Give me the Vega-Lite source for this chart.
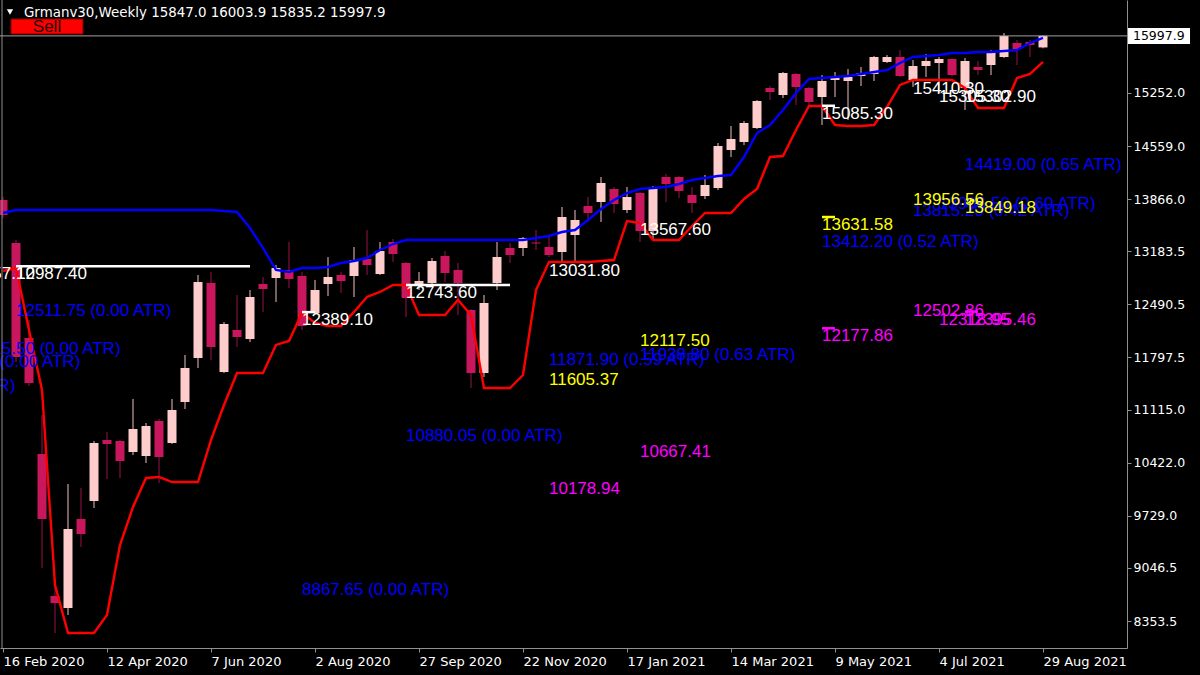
{
"$schema": "https://vega.github.io/schema/vega-lite/v6.json",
"width": 1127, "height": 648,
"autosize": {"type": "none"},
"padding": {"left": 0, "top": 0, "right": 73, "bottom": 27},
"background": "#000000",
"config": {
"view": {"stroke": null},
"scale": {"continuousPadding": 0},
"axis": {"labelColor": "#FFFFFF", "labelFont": "DejaVu Sans", "tickColor": "#909090", "tickSize": 4, "domainColor": "#909090", "grid": false, "labelOverlap": false, "labelFlush": false, "labelBound": false},
"axisX": {"labelFontSize": 13, "labelPadding": 3, "labelAlign": "left"},
"axisY": {"labelFontSize": 12.5, "labelPadding": 2}
},
"datasets": {
"one": [{}],
"candles": [
{"d":"2020-02-16","o":13853.9,"h":13893,"l":13618.7,"c":13657.9,"up":13684,"dn":12926.3},
{"d":"2020-02-23","o":13292.1,"h":13331.3,"l":11737.4,"c":11802.7,"up":13723.3,"dn":12965.3},
{"d":"2020-03-01","o":12050.9,"h":12286.1,"l":11423.8,"c":11463,"up":13723.3,"dn":12155.5},
{"d":"2020-03-08","o":10535.4,"h":11044.9,"l":9045.9,"c":9686.2,"up":13723.3,"dn":11371.6},
{"d":"2020-03-15","o":8680.2,"h":8902.3,"l":8196.8,"c":8588.7,"up":13723.3,"dn":8823.8},
{"d":"2020-03-22","o":8523.4,"h":10143.4,"l":8431.9,"c":9555.5,"up":13723.3,"dn":8196.8},
{"d":"2020-03-29","o":9686.2,"h":10091.2,"l":9320.4,"c":9490.2,"up":13723.3,"dn":8196.8},
{"d":"2020-04-05","o":9921.3,"h":10705.2,"l":9829.8,"c":10679.1,"up":13723.3,"dn":8196.8},
{"d":"2020-04-12","o":10718.3,"h":10822.8,"l":10208.8,"c":10666.1,"up":13723.3,"dn":8431.9},
{"d":"2020-04-19","o":10705.2,"h":10718.3,"l":10221.8,"c":10443.9,"up":13723.3,"dn":9346.5},
{"d":"2020-04-26","o":10561.5,"h":11254,"l":10522.3,"c":10862,"up":13723.3,"dn":9843},
{"d":"2020-05-03","o":10509.3,"h":10940.4,"l":10417.8,"c":10901.2,"up":13723.3,"dn":10221.8},
{"d":"2020-05-10","o":10966.5,"h":10992.7,"l":10156.5,"c":10496.2,"up":13723.3,"dn":10234.9},
{"d":"2020-05-17","o":10679.1,"h":11254,"l":10666.1,"c":11110.2,"up":13723.3,"dn":10169.6},
{"d":"2020-05-24","o":11214.8,"h":11828.8,"l":11123.3,"c":11659,"up":13723.3,"dn":10169.6},
{"d":"2020-05-31","o":11789.6,"h":12874.1,"l":11659,"c":12782.6,"up":13723.3,"dn":10169.6},
{"d":"2020-06-07","o":12769.5,"h":12913.2,"l":11763.5,"c":11933.4,"up":13723.3,"dn":10718.3},
{"d":"2020-06-14","o":11606.7,"h":12259.8,"l":11593.6,"c":12233.8,"up":13710.2,"dn":11175.6},
{"d":"2020-06-21","o":12155.5,"h":12612.7,"l":11933.4,"c":12064,"up":13697.1,"dn":11593.6},
{"d":"2020-06-28","o":12037.9,"h":12678,"l":11998.7,"c":12586.6,"up":13488.1,"dn":11593.6},
{"d":"2020-07-05","o":12756.4,"h":12848,"l":12390.6,"c":12691.1,"up":13226.8,"dn":11593.6},
{"d":"2020-07-12","o":12834.8,"h":13004.6,"l":12521.3,"c":12965.3,"up":12939.4,"dn":11960},
{"d":"2020-07-19","o":12939.4,"h":13305.2,"l":12704.2,"c":12821.8,"up":12913.2,"dn":12012.6},
{"d":"2020-07-26","o":12861,"h":12913.2,"l":12155.5,"c":12207.7,"up":12965.3,"dn":12378.4},
{"d":"2020-08-02","o":12377.6,"h":12808.7,"l":12370,"c":12678,"up":12965.3,"dn":12247.8},
{"d":"2020-08-09","o":12756.4,"h":13109.2,"l":12599.7,"c":12848,"up":12978.4,"dn":12208.7},
{"d":"2020-08-16","o":12874.1,"h":12913.2,"l":12638.9,"c":12795.8,"up":13030.8,"dn":12208.7},
{"d":"2020-08-23","o":12861,"h":13239.8,"l":12586.6,"c":13070,"up":13056.9,"dn":12391.5},
{"d":"2020-08-30","o":13083.1,"h":13462,"l":12874.1,"c":13004.6,"up":13096.1,"dn":12587.5},
{"d":"2020-09-06","o":12887.1,"h":13305.2,"l":12874.1,"c":13187.6,"up":13200.6,"dn":12652.8},
{"d":"2020-09-13","o":13305.2,"h":13344.4,"l":13043.9,"c":13148.4,"up":13279,"dn":12744.3},
{"d":"2020-09-20","o":13030.8,"h":13043.9,"l":12325.3,"c":12573.5,"up":13331.3,"dn":12744.3},
{"d":"2020-09-27","o":12743,"h":12913.2,"l":12678,"c":12796,"up":13331.3,"dn":12351.4},
{"d":"2020-10-04","o":12769.5,"h":13096.1,"l":12756.4,"c":13056.9,"up":13331.3,"dn":12351.4},
{"d":"2020-10-11","o":13122.3,"h":13187.6,"l":12782.6,"c":12900.2,"up":13331.3,"dn":12351.4},
{"d":"2020-10-18","o":12939.4,"h":13030.8,"l":12351.4,"c":12769.5,"up":13331.3,"dn":12548.4},
{"d":"2020-10-25","o":12416.8,"h":12429.8,"l":11397.7,"c":11593.6,"up":13331.3,"dn":12351.4},
{"d":"2020-11-01","o":11593.6,"h":12612.7,"l":11541.4,"c":12508.2,"up":13331.3,"dn":11397.7},
{"d":"2020-11-08","o":12769.5,"h":13305.2,"l":12678,"c":13109.2,"up":13331.3,"dn":11397.7},
{"d":"2020-11-15","o":13226.8,"h":13292.1,"l":13030.8,"c":13135.3,"up":13331.3,"dn":11397.7},
{"d":"2020-11-22","o":13226.8,"h":13370.5,"l":13122.3,"c":13357.4,"up":13331.3,"dn":11567.5},
{"d":"2020-11-29","o":13298.7,"h":13462,"l":13200.6,"c":13285.6,"up":13357.4,"dn":12678},
{"d":"2020-12-06","o":13239.8,"h":13370.5,"l":13109.2,"c":13135.3,"up":13383.5,"dn":13043.9},
{"d":"2020-12-13","o":13174.5,"h":13762.4,"l":13031.8,"c":13631.8,"up":13435.8,"dn":13043.9},
{"d":"2020-12-20","o":13396.6,"h":13723.3,"l":13043.9,"c":13592.6,"up":13461.9,"dn":13043.9},
{"d":"2020-12-27","o":13775.5,"h":13893,"l":13566.5,"c":13684,"up":13592.6,"dn":13043.9},
{"d":"2021-01-03","o":13827.6,"h":14154.4,"l":13566.5,"c":14076,"up":13736.3,"dn":13056.9},
{"d":"2021-01-10","o":13997.6,"h":14023.8,"l":13684,"c":13801.6,"up":13853.9,"dn":13070},
{"d":"2021-01-17","o":13723.3,"h":14023.8,"l":13684,"c":13893,"up":13945.4,"dn":13579.5},
{"d":"2021-01-24","o":13945.4,"h":13958.4,"l":13305.2,"c":13448.9,"up":13997.6,"dn":13553.4},
{"d":"2021-01-31","o":13448.9,"h":14036.8,"l":13331.3,"c":14023.8,"up":14010.7,"dn":13331.3},
{"d":"2021-02-07","o":14154.4,"h":14193.6,"l":13827.6,"c":14063,"up":14023.8,"dn":13331.3},
{"d":"2021-02-14","o":14154.4,"h":14167.5,"l":13879.8,"c":13971.5,"up":14063,"dn":13331.3},
{"d":"2021-02-21","o":13919.2,"h":14023.8,"l":13684,"c":13814.7,"up":14115.2,"dn":13514.2},
{"d":"2021-02-28","o":13906.2,"h":14180.5,"l":13866.8,"c":14049.9,"up":14141.3,"dn":13684},
{"d":"2021-03-07","o":14010.7,"h":14598.6,"l":13984.6,"c":14559.4,"up":14167.5,"dn":13684},
{"d":"2021-03-14","o":14507.2,"h":14820.8,"l":14415.7,"c":14650.9,"up":14180.5,"dn":13684},
{"d":"2021-03-21","o":14611.7,"h":14886.2,"l":14572.5,"c":14860,"up":14415.7,"dn":13866.8},
{"d":"2021-03-28","o":14794.6,"h":15160.4,"l":14781.5,"c":15147.3,"up":14729.3,"dn":13997.6},
{"d":"2021-04-04","o":15317.2,"h":15343.3,"l":15160.4,"c":15264.9,"up":14833.8,"dn":14415.7},
{"d":"2021-04-11","o":15225.7,"h":15526.2,"l":15186.5,"c":15513.2,"up":15029.8,"dn":14428.8},
{"d":"2021-04-18","o":15500.1,"h":15513.2,"l":15095.1,"c":15330.3,"up":15251.9,"dn":14768.5},
{"d":"2021-04-25","o":15317.2,"h":15330.3,"l":15095.1,"c":15134.3,"up":15434.8,"dn":15082},
{"d":"2021-05-02","o":15199.6,"h":15487,"l":14834,"c":15408.6,"up":15447.8,"dn":15082},
{"d":"2021-05-09","o":15421.7,"h":15526.2,"l":15199.6,"c":15460.9,"up":15460.9,"dn":14833.8},
{"d":"2021-05-16","o":15408.6,"h":15565.4,"l":14899.1,"c":15460.9,"up":15474,"dn":14820.8},
{"d":"2021-05-23","o":15474,"h":15591.5,"l":15343.3,"c":15513.2,"up":15500.1,"dn":14820.8},
{"d":"2021-05-30","o":15500.1,"h":15735.3,"l":15408.6,"c":15722,"up":15526.2,"dn":14833.8},
{"d":"2021-06-06","o":15656.9,"h":15748.1,"l":15643.9,"c":15722,"up":15552.4,"dn":15069},
{"d":"2021-06-13","o":15722,"h":15813.7,"l":15460.9,"c":15474,"up":15643.9,"dn":15356.4},
{"d":"2021-06-20","o":15421.7,"h":15683,"l":15330.3,"c":15604.6,"up":15722,"dn":15421.7},
{"d":"2021-06-27","o":15604.6,"h":15761.4,"l":15460.9,"c":15669.9,"up":15735.3,"dn":15421.7},
{"d":"2021-07-04","o":15643.9,"h":15722,"l":15251.9,"c":15696.2,"up":15748.1,"dn":15421.7},
{"d":"2021-07-11","o":15696.2,"h":15709.2,"l":15470,"c":15487,"up":15774.5,"dn":15421.7},
{"d":"2021-07-18","o":15317.2,"h":15709.2,"l":15029.8,"c":15669.9,"up":15774.5,"dn":15317.2},
{"d":"2021-07-25","o":15591.5,"h":15669.9,"l":15487,"c":15552.4,"up":15787.5,"dn":15056},
{"d":"2021-08-01","o":15617.7,"h":15813.7,"l":15487,"c":15787.5,"up":15787.5,"dn":15056},
{"d":"2021-08-08","o":15722,"h":16035.8,"l":15709.2,"c":15996.6,"up":15800.6,"dn":15056},
{"d":"2021-08-15","o":15905.1,"h":15944.3,"l":15617.7,"c":15826.8,"up":15813.7,"dn":15447.8},
{"d":"2021-08-22","o":15918.2,"h":15944,"l":15722,"c":15879,"up":15905.1,"dn":15500.1},
{"d":"2021-08-29","o":15847,"h":16003.9,"l":15835.2,"c":15997.9,"up":15970.6,"dn":15657}
],
"segs": [
{"d1":"2020-02-23","d2":"2020-06-28","p":12987.4,"col":"#FFFFFF"},
{"d1":"2020-07-26","d2":"2020-08-02","p":12389.1,"col":"#FFFFFF"},
{"d1":"2020-09-20","d2":"2020-11-15","p":12743.6,"col":"#FFFFFF"},
{"d1":"2021-05-02","d2":"2021-05-09","p":15085.3,"col":"#FFFFFF"},
{"d1":"2021-05-02","d2":"2021-05-09","p":13631.58,"col":"#FFFF00"},
{"d1":"2021-05-02","d2":"2021-05-09","p":12177.86,"col":"#FF00FF"},
{"d1":"2021-07-18","d2":"2021-07-25","p":13849.18,"col":"#FFFF00"},
{"d1":"2021-07-18","d2":"2021-07-25","p":12395.46,"col":"#FF00FF"}
],
"labels": [
{"d":"2020-01-26","p":12987.4,"t":"12957.10","col":"#FFFFFF"},
{"d":"2020-02-23","p":12987.4,"t":"12987.40","col":"#FFFFFF"},
{"d":"2020-07-26","p":12389.1,"t":"12389.10","col":"#FFFFFF"},
{"d":"2020-09-20","p":12743.6,"t":"12743.60","col":"#FFFFFF"},
{"d":"2020-12-06","p":13031.8,"t":"13031.80","col":"#FFFFFF"},
{"d":"2021-01-24","p":13567.6,"t":"13567.60","col":"#FFFFFF"},
{"d":"2021-05-02","p":15085.3,"t":"15085.30","col":"#FFFFFF"},
{"d":"2021-06-20","p":15410.3,"t":"15410.30","col":"#FFFFFF"},
{"d":"2021-07-04","p":15302.9,"t":"15305.30","col":"#FFFFFF"},
{"d":"2021-07-18","p":15302.9,"t":"15302.90","col":"#FFFFFF"},
{"d":"2020-02-23","p":12511.75,"t":"12511.75 (0.00 ATR)","col":"#0000FF"},
{"d":"2020-01-26","p":12018,"t":"12015.50 (0.00 ATR)","col":"#0000FF"},
{"d":"2020-01-05","p":11848,"t":"11848.50 (0.00 ATR)","col":"#0000FF"},
{"d":"2019-12-01","p":11522,"t":"11521.80 (0.00 ATR)","col":"#0000FF"},
{"d":"2020-09-20","p":10880.05,"t":"10880.05 (0.00 ATR)","col":"#0000FF"},
{"d":"2020-07-26","p":8867.65,"t":"8867.65 (0.00 ATR)","col":"#0000FF"},
{"d":"2020-12-06","p":11871.9,"t":"11871.90 (0.59 ATR)","col":"#0000FF"},
{"d":"2021-01-24","p":11938.8,"t":"11938.80 (0.63 ATR)","col":"#0000FF"},
{"d":"2021-05-02","p":13412.2,"t":"13412.20 (0.52 ATR)","col":"#0000FF"},
{"d":"2021-06-20","p":13815.2,"t":"13815.20 (0.42 ATR)","col":"#0000FF"},
{"d":"2021-07-04","p":13906.5,"t":"13906.50 (0.60 ATR)","col":"#0000FF"},
{"d":"2021-07-18","p":14419,"t":"14419.00 (0.65 ATR)","col":"#0000FF"},
{"d":"2021-01-24","p":12117.5,"t":"12117.50","col":"#FFFF00"},
{"d":"2020-12-06","p":11605.37,"t":"11605.37","col":"#FFFF00"},
{"d":"2021-05-02","p":13631.58,"t":"13631.58","col":"#FFFF00"},
{"d":"2021-06-20","p":13956.56,"t":"13956.56","col":"#FFFF00"},
{"d":"2021-07-18","p":13849.18,"t":"13849.18","col":"#FFFF00"},
{"d":"2021-01-24","p":10667.41,"t":"10667.41","col":"#FF00FF"},
{"d":"2020-12-06","p":10178.94,"t":"10178.94","col":"#FF00FF"},
{"d":"2021-05-02","p":12177.86,"t":"12177.86","col":"#FF00FF"},
{"d":"2021-06-20","p":12502.86,"t":"12502.86","col":"#FF00FF"},
{"d":"2021-07-04","p":12395.46,"t":"12318.95","col":"#FF00FF"},
{"d":"2021-07-18","p":12395.46,"t":"12395.46","col":"#FF00FF"}
]
},
"layer": [
{
"data": {"name": "candles"},
"mark": {"type": "rule", "strokeWidth": 1},
"encoding": {
"x": {"field": "d", "type": "temporal",
"scale": {"type": "utc", "domain": [1581671630769, 1634103138462], "padding": 0},
"axis": {"orient": "bottom", "title": null, "values": [1581811200000,1586649600000,1591488000000,1596326400000,1601164800000,1606003200000,1610841600000,1615680000000,1620518400000,1625356800000,1630195200000], "labelExpr": "utcFormat(datum.value, '%-d %b %Y')"}},
"y": {"field": "h", "type": "quantitative",
"scale": {"domain": [8000.8, 16466.9], "nice": false, "zero": false, "padding": 0},
"axis": {"orient": "right", "title": null, "values": [8353.5,9046.5,9729,10422,11115,11797.5,12490.5,13183.5,13866,14559,15252], "format": ".1f"}},
"y2": {"field": "l"},
"color": {"condition": {"test": "datum.c >= datum.o", "value": "#F0C0C0"}, "value": "#9C1248"}
}
},
{
"data": {"name": "candles"},
"mark": {"type": "bar", "size": 9},
"encoding": {
"x": {"field": "d", "type": "temporal", "axis": {"orient": "bottom", "title": null, "values": [1581811200000,1586649600000,1591488000000,1596326400000,1601164800000,1606003200000,1610841600000,1615680000000,1620518400000,1625356800000,1630195200000], "labelExpr": "utcFormat(datum.value, '%-d %b %Y')"}},
"y": {"field": "o", "type": "quantitative", "axis": {"orient": "right", "title": null, "values": [8353.5,9046.5,9729,10422,11115,11797.5,12490.5,13183.5,13866,14559,15252], "format": ".1f"}},
"y2": {"field": "c"},
"color": {"condition": {"test": "datum.c >= datum.o", "value": "#FFCCCC"}, "value": "#C8175D"}
}
},
{
"data": {"name": "candles"},
"mark": {"type": "line", "color": "#0000FF", "strokeWidth": 2.4},
"encoding": {
"x": {"field": "d", "type": "temporal", "axis": {"orient": "bottom", "title": null, "values": [1581811200000,1586649600000,1591488000000,1596326400000,1601164800000,1606003200000,1610841600000,1615680000000,1620518400000,1625356800000,1630195200000], "labelExpr": "utcFormat(datum.value, '%-d %b %Y')"}},
"y": {"field": "up", "type": "quantitative", "axis": {"orient": "right", "title": null, "values": [8353.5,9046.5,9729,10422,11115,11797.5,12490.5,13183.5,13866,14559,15252], "format": ".1f"}}
}
},
{
"data": {"name": "candles"},
"mark": {"type": "line", "color": "#FF0000", "strokeWidth": 2.4},
"encoding": {
"x": {"field": "d", "type": "temporal", "axis": {"orient": "bottom", "title": null, "values": [1581811200000,1586649600000,1591488000000,1596326400000,1601164800000,1606003200000,1610841600000,1615680000000,1620518400000,1625356800000,1630195200000], "labelExpr": "utcFormat(datum.value, '%-d %b %Y')"}},
"y": {"field": "dn", "type": "quantitative", "axis": {"orient": "right", "title": null, "values": [8353.5,9046.5,9729,10422,11115,11797.5,12490.5,13183.5,13866,14559,15252], "format": ".1f"}}
}
},
{
"data": {"name": "segs"},
"mark": {"type": "rule", "strokeWidth": 2.5},
"encoding": {
"x": {"field": "d1", "type": "temporal", "axis": {"orient": "bottom", "title": null, "values": [1581811200000,1586649600000,1591488000000,1596326400000,1601164800000,1606003200000,1610841600000,1615680000000,1620518400000,1625356800000,1630195200000], "labelExpr": "utcFormat(datum.value, '%-d %b %Y')"}},
"x2": {"field": "d2"},
"y": {"field": "p", "type": "quantitative", "axis": {"orient": "right", "title": null, "values": [8353.5,9046.5,9729,10422,11115,11797.5,12490.5,13183.5,13866,14559,15252], "format": ".1f"}},
"color": {"field": "col", "type": "nominal", "scale": null}
}
},
{
"data": {"name": "labels"},
"mark": {"type": "text", "align": "left", "baseline": "top", "font": "Liberation Sans", "fontSize": 17, "clip": true},
"encoding": {
"x": {"field": "d", "type": "temporal", "axis": {"orient": "bottom", "title": null, "values": [1581811200000,1586649600000,1591488000000,1596326400000,1601164800000,1606003200000,1610841600000,1615680000000,1620518400000,1625356800000,1630195200000], "labelExpr": "utcFormat(datum.value, '%-d %b %Y')"}},
"y": {"field": "p", "type": "quantitative", "axis": {"orient": "right", "title": null, "values": [8353.5,9046.5,9729,10422,11115,11797.5,12490.5,13183.5,13866,14559,15252], "format": ".1f"}},
"text": {"field": "t"},
"color": {"field": "col", "type": "nominal", "scale": null}
}
},
{
"data": {"name": "one"},
"mark": {"type": "rule", "color": "#A0A0A0", "strokeWidth": 1},
"encoding": {"y": {"datum": 15997.9, "type": "quantitative", "axis": {"orient": "right", "title": null, "values": [8353.5,9046.5,9729,10422,11115,11797.5,12490.5,13183.5,13866,14559,15252], "format": ".1f"}}}
},
{
"data": {"name": "one"},
"mark": {"type": "rule", "color": "#909090", "strokeWidth": 1},
"encoding": {"x": {"datum": {"year": 2020, "month": 2, "date": 15, "hours": 11, "minutes": 5, "utc": true}, "type": "temporal", "axis": {"orient": "bottom", "title": null, "values": [1581811200000,1586649600000,1591488000000,1596326400000,1601164800000,1606003200000,1610841600000,1615680000000,1620518400000,1625356800000,1630195200000], "labelExpr": "utcFormat(datum.value, '%-d %b %Y')"}}}
},
{
"data": {"name": "one"},
"mark": {"type": "point", "shape": "triangle-down", "filled": true, "color": "#FFFFFF", "size": 40, "opacity": 1},
"encoding": {
"x": {"datum": {"year": 2020, "month": 2, "date": 19, "hours": 18, "minutes": 23, "utc": true}, "type": "temporal", "axis": {"orient": "bottom", "title": null, "values": [1581811200000,1586649600000,1591488000000,1596326400000,1601164800000,1606003200000,1610841600000,1615680000000,1620518400000,1625356800000,1630195200000], "labelExpr": "utcFormat(datum.value, '%-d %b %Y')"}},
"y": {"datum": 16310, "type": "quantitative", "axis": {"orient": "right", "title": null, "values": [8353.5,9046.5,9729,10422,11115,11797.5,12490.5,13183.5,13866,14559,15252], "format": ".1f"}}
}
},
{
"data": {"name": "one"},
"mark": {"type": "text", "align": "left", "baseline": "middle", "font": "DejaVu Sans", "fontSize": 13.4, "color": "#FFFFFF", "text": "Grmanv30,Weekly  15847.0 16003.9 15835.2 15997.9"},
"encoding": {
"x": {"datum": {"year": 2020, "month": 2, "date": 27, "hours": 7, "minutes": 19, "utc": true}, "type": "temporal", "axis": {"orient": "bottom", "title": null, "values": [1581811200000,1586649600000,1591488000000,1596326400000,1601164800000,1606003200000,1610841600000,1615680000000,1620518400000,1625356800000,1630195200000], "labelExpr": "utcFormat(datum.value, '%-d %b %Y')"}},
"y": {"datum": 16297, "type": "quantitative", "axis": {"orient": "right", "title": null, "values": [8353.5,9046.5,9729,10422,11115,11797.5,12490.5,13183.5,13866,14559,15252], "format": ".1f"}}
}
},
{
"data": {"name": "one"},
"mark": {"type": "rect", "color": "#FF0000", "stroke": "#800000", "strokeWidth": 1},
"encoding": {
"x": {"datum": {"year": 2020, "month": 2, "date": 20, "hours": 7, "minutes": 21, "utc": true}, "type": "temporal", "axis": {"orient": "bottom", "title": null, "values": [1581811200000,1586649600000,1591488000000,1596326400000,1601164800000,1606003200000,1610841600000,1615680000000,1620518400000,1625356800000,1630195200000], "labelExpr": "utcFormat(datum.value, '%-d %b %Y')"}},
"x2": {"datum": {"year": 2020, "month": 3, "date": 30, "hours": 1, "minutes": 51, "utc": true}},
"y": {"datum": 16218.7, "type": "quantitative", "axis": {"orient": "right", "title": null, "values": [8353.5,9046.5,9729,10422,11115,11797.5,12490.5,13183.5,13866,14559,15252], "format": ".1f"}},
"y2": {"datum": 16022.7}
}
},
{
"data": {"name": "one"},
"mark": {"type": "text", "align": "center", "baseline": "middle", "font": "Liberation Sans", "fontSize": 17, "color": "#200000", "text": "Sell"},
"encoding": {
"x": {"datum": {"year": 2020, "month": 3, "date": 10, "hours": 16, "minutes": 38, "utc": true}, "type": "temporal", "axis": {"orient": "bottom", "title": null, "values": [1581811200000,1586649600000,1591488000000,1596326400000,1601164800000,1606003200000,1610841600000,1615680000000,1620518400000,1625356800000,1630195200000], "labelExpr": "utcFormat(datum.value, '%-d %b %Y')"}},
"y": {"datum": 16120, "type": "quantitative", "axis": {"orient": "right", "title": null, "values": [8353.5,9046.5,9729,10422,11115,11797.5,12490.5,13183.5,13866,14559,15252], "format": ".1f"}}
}
},
{
"data": {"name": "one"},
"mark": {"type": "rect", "color": "#FFFFFF"},
"encoding": {
"x": {"datum": 1634150592000, "type": "temporal", "axis": {"orient": "bottom", "title": null, "values": [1581811200000,1586649600000,1591488000000,1596326400000,1601164800000,1606003200000,1610841600000,1615680000000,1620518400000,1625356800000,1630195200000], "labelExpr": "utcFormat(datum.value, '%-d %b %Y')"}},
"x2": {"datum": 1637035488000},
"y": {"datum": 16101.1, "type": "quantitative", "axis": {"orient": "right", "title": null, "values": [8353.5,9046.5,9729,10422,11115,11797.5,12490.5,13183.5,13866,14559,15252], "format": ".1f"}},
"y2": {"datum": 15892.1}
}
},
{
"data": {"name": "one"},
"mark": {"type": "text", "align": "left", "baseline": "middle", "font": "DejaVu Sans", "fontSize": 12.5, "color": "#000000", "text": "15997.9"},
"encoding": {
"x": {"datum": 1634380416000, "type": "temporal", "axis": {"orient": "bottom", "title": null, "values": [1581811200000,1586649600000,1591488000000,1596326400000,1601164800000,1606003200000,1610841600000,1615680000000,1620518400000,1625356800000,1630195200000], "labelExpr": "utcFormat(datum.value, '%-d %b %Y')"}},
"y": {"datum": 15997.9, "type": "quantitative", "axis": {"orient": "right", "title": null, "values": [8353.5,9046.5,9729,10422,11115,11797.5,12490.5,13183.5,13866,14559,15252], "format": ".1f"}}
}
}
]
}
